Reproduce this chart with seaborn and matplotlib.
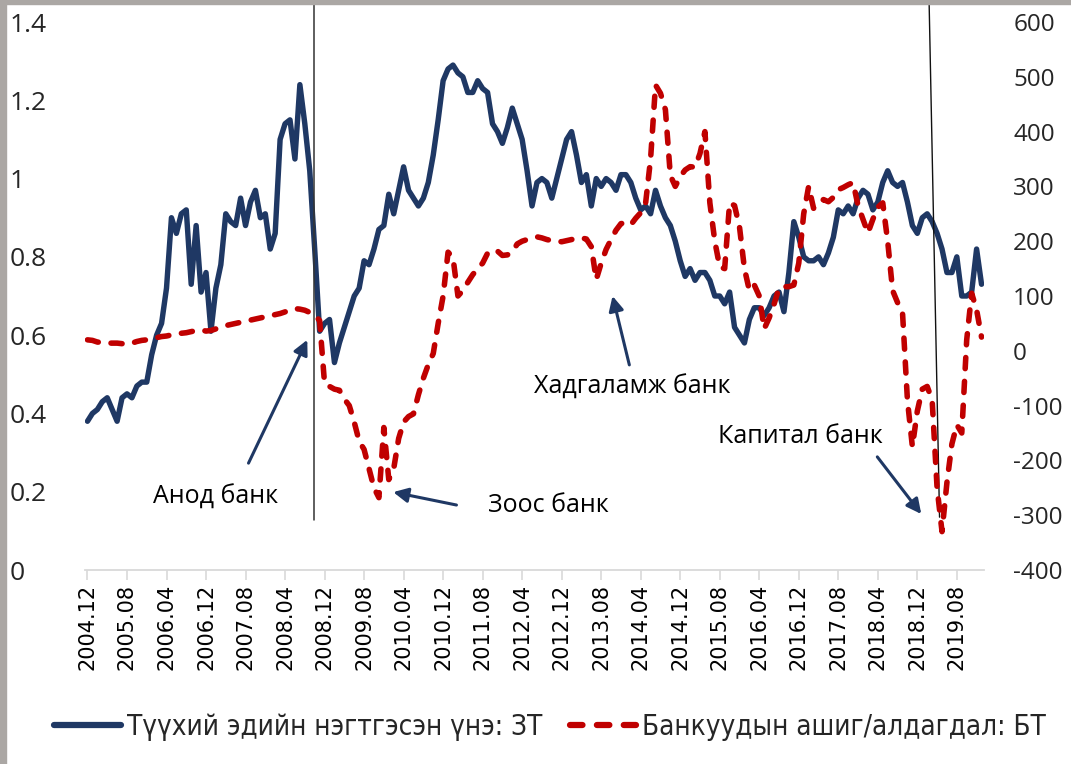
import numpy as np
import pandas as pd
import matplotlib
matplotlib.use("Agg")
import matplotlib.pyplot as plt
import seaborn as sns
from matplotlib.lines import Line2D
from matplotlib.patches import Rectangle

# -------------------------
# Data (monthly, 2004.12 - 2020.01)
# -------------------------
asset_index = [
    0.38, 0.40, 0.41, 0.43, 0.44, 0.41, 0.38, 0.44, 0.45, 0.44,
    0.47, 0.48, 0.48, 0.55, 0.60, 0.63, 0.72, 0.90, 0.86, 0.91,
    0.92, 0.73, 0.88, 0.71, 0.76, 0.61, 0.72, 0.78, 0.91, 0.89,
    0.88, 0.95, 0.88, 0.94, 0.97, 0.90, 0.91, 0.82, 0.86, 1.10,
    1.14, 1.15, 1.05, 1.24, 1.14, 1.02, 0.82, 0.61, 0.63, 0.64,
    0.53, 0.58, 0.62, 0.66, 0.70, 0.72, 0.79, 0.78, 0.82, 0.87,
    0.88, 0.96, 0.91, 0.97, 1.03, 0.97, 0.95, 0.93, 0.95, 0.99,
    1.06, 1.15, 1.25, 1.28, 1.29, 1.27, 1.26, 1.22, 1.22, 1.25,
    1.23, 1.22, 1.14, 1.12, 1.09, 1.13, 1.18, 1.14, 1.10, 1.02,
    0.93, 0.99, 1.00, 0.99, 0.95, 1.00, 1.05, 1.10, 1.12, 1.06,
    0.99, 1.01, 0.93, 1.00, 0.98, 1.00, 0.99, 0.97, 1.01, 1.01,
    0.99, 0.95, 0.92, 0.93, 0.91, 0.97, 0.93, 0.90, 0.88, 0.84,
    0.79, 0.75, 0.77, 0.74, 0.76, 0.76, 0.74, 0.70, 0.70, 0.68,
    0.71, 0.62, 0.60, 0.58, 0.64, 0.67, 0.67, 0.65, 0.67, 0.70,
    0.71, 0.66, 0.76, 0.89, 0.85, 0.80, 0.79, 0.79, 0.80, 0.78,
    0.81, 0.85, 0.92, 0.91, 0.93, 0.91, 0.95, 0.97, 0.96, 0.92,
    0.94, 0.99, 1.02, 0.99, 0.98, 0.99, 0.94, 0.88, 0.86, 0.90,
    0.91, 0.89, 0.86, 0.82, 0.76, 0.76, 0.80, 0.70, 0.70, 0.71,
    0.82, 0.73,
]

bank_profit = [
    20, 19, 16, 15, 14, 14, 14, 13, 12, 14,
    17, 19, 20, 22, 24, 26, 27, 29, 30, 32,
    33, 35, 37, 38, 36, 37, 40, 43, 46, 48,
    50, 52, 54, 56, 58, 60, 62, 64, 66, 68,
    71, 74, 77, 76, 74, 70, 66, 55, -60, -65,
    -70, -72, -88, -100, -130, -165, -180, -215, -250, -268,
    -140, -235, -215, -160, -130, -120, -115, -80, -50, -25,
    -5, 50, 100, 180, 170, 100, 110, 125, 139, 150,
    160, 178, 176, 182, 174, 175, 180, 195, 200, 203,
    206, 208, 206, 203, 201, 200, 199, 201, 203, 205,
    206, 204, 190, 130, 160, 185, 203, 220, 232, 234,
    230, 242, 252, 270, 350, 485, 470, 440, 320, 300,
    318, 330, 336, 335, 360, 400, 270, 200, 153, 150,
    270, 265, 226, 150, 110, 120, 100, 40, 60, 85,
    115, 117, 117, 120, 160, 250, 300, 260, 268, 276,
    272, 280, 294, 298, 303, 307, 265, 240, 215, 240,
    262, 270, 200, 110, 88, 70, -90, -175, -110, -70,
    -65, -90, -250, -330, -240, -170, -135, -150, 20, 105,
    75, 25,
]

tick_labels = [
    "2004.12", "2005.08", "2006.04", "2006.12", "2007.08", "2008.04",
    "2008.12", "2009.08", "2010.04", "2010.12", "2011.08", "2012.04",
    "2012.12", "2013.08", "2014.04", "2014.12", "2015.08", "2016.04",
    "2016.12", "2017.08", "2018.04", "2018.12", "2019.08",
]

left_ticks = [0, 0.2, 0.4, 0.6, 0.8, 1.0, 1.2, 1.4]
left_tick_labels = ["0", "0.2", "0.4", "0.6", "0.8", "1", "1.2", "1.4"]
right_ticks = [-400, -300, -200, -100, 0, 100, 200, 300, 400, 500, 600]
right_tick_labels = ["-400", "-300", "-200", "-100", "0", "100", "200",
                     "300", "400", "500", "600"]

series_names = ["Түүхий эдийн нэгтгэсэн үнэ: ЗТ", "Банкуудын ашиг/алдагдал: БТ"]
event_names = ["Анод банк", "Зоос банк", "Хадгаламж банк", "Капитал банк"]

blue = "#1F3864"
red = "#C00000"

df = pd.DataFrame({
    "month": np.arange(len(asset_index)),
    "asset": asset_index,
    "profit": bank_profit,
})

# -------------------------
# Figure
# -------------------------
sns.set_style("white")
plt.rcParams["font.family"] = ["Open Sans", "DejaVu Sans"]

W, H = 1071, 764
fig = plt.figure(figsize=(W / 100, H / 100), dpi=100)
ax = fig.add_axes([85 / W, 1 - 570 / H, (984 - 85) / W, (570 - 22) / H])
ax2 = ax.twinx()

sns.lineplot(data=df, x="month", y="asset", ax=ax, color=blue,
             linewidth=3.9, legend=False)
sns.lineplot(data=df, x="month", y="profit", ax=ax2, color=red,
             linewidth=4.0, legend=False)
for ln in ax2.lines:
    ln.set_dashes((2.0, 2.3))
    ln.set_dash_capstyle("round")

ax.set_xlim(-0.5, len(asset_index) - 0.5)
ax.set_ylim(0, 1.4)
ax2.set_ylim(-400, 600)

for a in (ax, ax2):
    for s in a.spines.values():
        s.set_visible(False)
    a.set_xlabel("")
    a.set_ylabel("")
ax.spines["bottom"].set_visible(True)
ax.spines["bottom"].set_color("#D9D9D9")
ax.spines["bottom"].set_linewidth(1.3)

# x axis
ax.set_xticks(np.arange(0, len(asset_index), 8))
ax.set_xticklabels(tick_labels, rotation=90, fontsize=15,
                   family="DejaVu Sans", color="black")
ax.tick_params(axis="x", length=7, width=1.2, color="#D9D9D9", pad=3,
               direction="out", bottom=True)

# left axis
ax.set_yticks(left_ticks)
ax.set_yticklabels(left_tick_labels, fontsize=19, ha="left")
ax.tick_params(axis="y", length=0, pad=54, left=True)

# right axis
ax2.set_yticks(right_ticks)
ax2.set_yticklabels(right_tick_labels, fontsize=17.5)
ax2.tick_params(axis="y", length=0, pad=21, right=True)

# -------------------------
# Event markers and labels
# -------------------------
ax.plot([45.8, 45.8], [0.128, 1.443], color="#333333", lw=1.1, clip_on=False)
ax.plot([170.4, 172.5], [1.443, 0.135], color="#111111", lw=1.0, clip_on=False)

arrow = dict(arrowstyle="-|>", color=blue, lw=2.2, mutation_scale=22,
             shrinkA=0, shrinkB=0)
text_kw = dict(fontsize=18, ha="center", va="center", color="black")

ax.text(25.9, 0.187, event_names[0], **text_kw)
ax.annotate("", xy=(44.5, 0.588), xytext=(32.6, 0.273), arrowprops=arrow)

ax.text(93.3, 0.166, event_names[1], **text_kw)
ax.annotate("", xy=(61.9, 0.199), xytext=(74.7, 0.166), arrowprops=arrow)

ax.text(110.3, 0.468, event_names[2], **text_kw)
ax.annotate("", xy=(106.3, 0.70), xytext=(109.7, 0.524), arrowprops=arrow)

ax.text(144.3, 0.34, event_names[3], **text_kw)
ax.annotate("", xy=(168.8, 0.143), xytext=(159.9, 0.289), arrowprops=arrow)

# -------------------------
# Legend
# -------------------------
handles = [
    Line2D([], [], color=blue, lw=4.5),
    Line2D([], [], color=red, lw=4.5, dashes=(2.0, 2.3),
           dash_capstyle="round"),
]
fig.legend(handles, series_names, loc="center",
           bbox_to_anchor=(550 / W, 1 - 727 / H), ncol=2, frameon=False,
           prop={"family": "DejaVu Sans", "stretch": "condensed", "size": 20},
           handlelength=2.4, handletextpad=0.2, columnspacing=1.0)

# gray frame edges like the source screenshot
fig.patches.append(Rectangle((0, 0), 6 / W, 1, transform=fig.transFigure,
                             color="#ABA7A4", zorder=0))
fig.patches.append(Rectangle((0, 1 - 4 / H), 1, 4 / H, transform=fig.transFigure,
                             color="#ABA7A4", zorder=0))

plt.savefig("out.png", dpi=100)
